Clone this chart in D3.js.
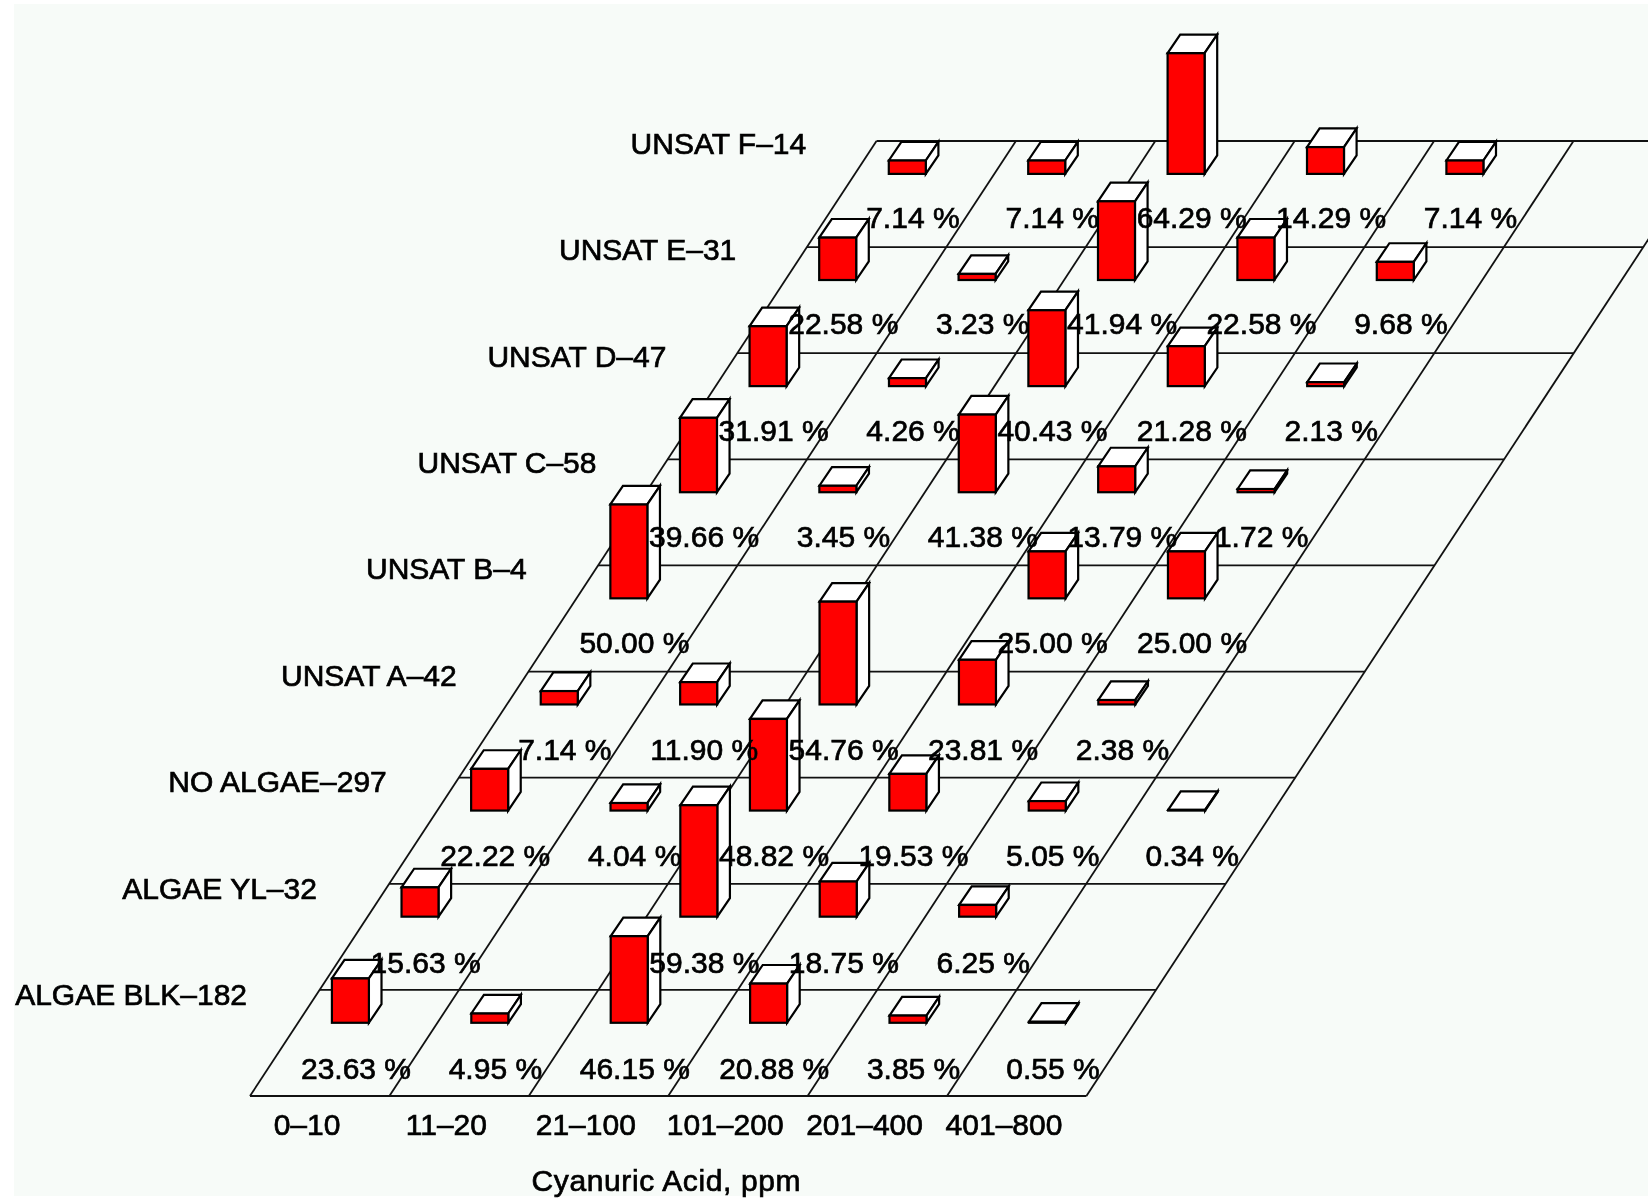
<!DOCTYPE html>
<html><head><meta charset="utf-8">
<script src="https://cdn.jsdelivr.net/npm/d3@7"></script>
<style>html,body{margin:0;padding:0;background:#fff}svg{display:block;filter:blur(0.45px)}
text{font-family:"Liberation Sans",Arial,sans-serif;font-size:30px;fill:#000;stroke:#000;stroke-width:.7px}</style>
</head><body><svg id="c" width="1648" height="1201"></svg>
<script>
const categories = ["0–10","11–20","21–100","101–200","201–400","401–800"];
const rowNames = ["ALGAE BLK–182","ALGAE YL–32","NO ALGAE–297","UNSAT A–42","UNSAT B–4","UNSAT C–58","UNSAT D–47","UNSAT E–31","UNSAT F–14"];
const algaeBlk = [23.63,4.95,46.15,20.88,3.85,0.55];
const algaeYl  = [15.63,null,59.38,18.75,6.25,null];
const noAlgae  = [22.22,4.04,48.82,19.53,5.05,0.34];
const unsatA   = [7.14,11.90,54.76,23.81,2.38,null];
const unsatB   = [50.00,null,null,25.00,25.00,null];
const unsatC   = [39.66,3.45,41.38,13.79,1.72,null];
const unsatD   = [31.91,4.26,40.43,21.28,2.13,null];
const unsatE   = [22.58,3.23,41.94,22.58,9.68,null];
const unsatF   = [7.14,7.14,64.29,14.29,7.14,null];
const rows = [algaeBlk,algaeYl,noAlgae,unsatA,unsatB,unsatC,unsatD,unsatE,unsatF];
const xTitle = "Cyanuric Acid, ppm";

const svg = d3.select("#c");
svg.append("rect").attr("x",14).attr("y",4).attr("width",1634).attr("height",1192).attr("fill","#f7fbf8");

// oblique floor: u = column position, v = row position
const xU = d3.scaleLinear().domain([0,categories.length]).range([0,836.4]);
const xV = d3.scaleLinear().domain([0,rowNames.length]).range([250,876.5]);
const yV = d3.scaleLinear().domain([0,rowNames.length]).range([1096,141]);
const px = (u,v)=>xU(u)+xV(v);
const h = d3.scaleLinear().domain([0,100]).range([0,187.7]);
const barW=37, depX=12.6, depY=18.6;
const uOff=(331.9-250-0.69*69.6)/139.4, vOff=0.69;

const floor = svg.append("g").attr("fill","none").attr("stroke","#111").attr("stroke-width",1.8);
const nC=categories.length,nR=rowNames.length;
d3.range(nR).forEach(r=>{
  floor.append("line").attr("x1",px(0,r)).attr("y1",yV(r)).attr("x2",px(nC,r)).attr("y2",yV(r));
});
d3.range(nC+1).forEach(c=>{
  floor.append("line").attr("x1",px(c,0)).attr("y1",yV(0)).attr("x2",px(c,nR)).attr("y2",yV(nR));
});
floor.append("line").attr("x1",px(0,nR)).attr("y1",yV(nR)).attr("x2",px(nC,nR)).attr("y2",yV(nR));

// rows: index r sits between floor lines r and r+1; back rows first
const bars = svg.append("g").attr("stroke","#000").attr("stroke-width",2.2).attr("stroke-linejoin","miter");
d3.range(nR-1,-1,-1).forEach(r=>{
  rows[r].forEach((val,c)=>{
    if(val===null) return;
    const x0=px(c+uOff,r+vOff), yb=yV(r+vOff), H=h(val), x1=x0+barW, yt=yb-H;
    const g=bars.append("g");
    g.append("path").attr("fill","#fff").attr("d",`M${x0},${yt}L${x0+depX},${yt-depY}L${x1+depX},${yt-depY}L${x1},${yt}Z`);
    g.append("path").attr("fill","#fff").attr("d",`M${x1},${yt}L${x1+depX},${yt-depY}L${x1+depX},${yb-depY}L${x1},${yb}Z`);
    g.append("rect").attr("x",x0).attr("y",yt).attr("width",barW).attr("height",H).attr("fill","#ff0000");
  });
});

// labels on top
const t = svg.append("g");
const rowStep = 106.4;
rows.forEach((row,r)=>{
  row.forEach((val,c)=>{
    if(val===null) return;
    t.append("text").attr("x",px(c,r)+106).attr("y",1079-rowStep*r)
     .attr("text-anchor","middle").text(val.toFixed(2)+" %");
  });
  t.append("text").attr("x",247+69.9*r).attr("y",1005-rowStep*r).attr("text-anchor","end").text(rowNames[r]);
});
categories.forEach((n,c)=>{
  t.append("text").attr("x",px(c,0)+57).attr("y",1135).attr("text-anchor","middle").text(n);
});
t.append("text").attr("x",666).attr("y",1191).attr("text-anchor","middle").attr("textLength",269).text(xTitle);
</script></body></html>
